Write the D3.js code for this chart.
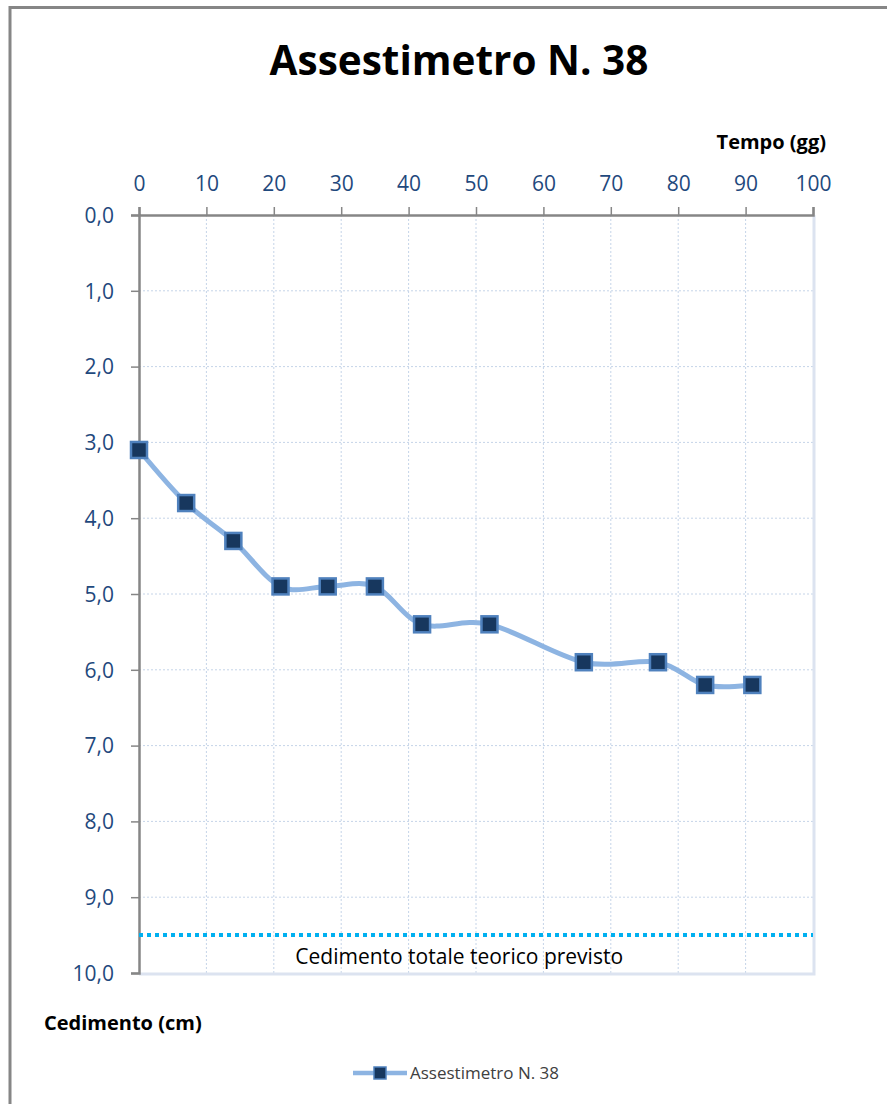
<html>
<head>
<style>
  body { margin: 0; background: #fff; }
  text { font-family: "Open Sans", sans-serif; }
</style>
</head>
<body>
<div id="chart"></div>
<script src="https://d3js.org/d3.v7.min.js"></script>
<script>
// data
var days = [0, 7, 14, 21, 28, 35, 42, 52, 66, 77, 84, 91];
var settlement = [3.1, 3.8, 4.3, 4.9, 4.9, 4.9, 5.4, 5.4, 5.9, 5.9, 6.2, 6.2];
var expectedTotal = 9.5;
var xTicks = [0, 10, 20, 30, 40, 50, 60, 70, 80, 90, 100];
var yTicks = [0, 1, 2, 3, 4, 5, 6, 7, 8, 9, 10];
var seriesName = "Assestimetro N. 38";

var W = 887, H = 1104;
var margin = { top: 215, left: 139, right: 887 - 813, bottom: 1104 - 973 };
var width = W - margin.left - margin.right,
    height = H - margin.top - margin.bottom;

var root = d3.select("#chart").append("svg")
    .attr("width", W)
    .attr("height", H);

// outer frame
root.append("path")
    .attr("d", "M10,1104 V7.5 H887")
    .attr("fill", "none")
    .attr("stroke", "#868686")
    .attr("stroke-width", 3);

root.append("text")
    .attr("x", 459).attr("y", 75)
    .attr("text-anchor", "middle")
    .attr("font-weight", "bold")
    .attr("font-size", 40.5)
    .text("Assestimetro N. 38");

var svg = root.append("g")
    .attr("transform", "translate(" + margin.left + "," + margin.top + ")");

var x = d3.scaleLinear().domain([0, 100]).range([0, width]);
var y = d3.scaleLinear().domain([0, 10]).range([0, height]);

// grid
svg.append("g").selectAll("line")
    .data(xTicks.slice(1, -1))
    .enter().append("line")
    .attr("x1", d => x(d)).attr("x2", d => x(d))
    .attr("y1", 0).attr("y2", height)
    .attr("stroke", "#c5d4e8").attr("stroke-dasharray", "2,2");
svg.append("g").selectAll("line")
    .data(yTicks.slice(1, -1))
    .enter().append("line")
    .attr("x1", 0).attr("x2", width)
    .attr("y1", d => y(d)).attr("y2", d => y(d))
    .attr("stroke", "#c5d4e8").attr("stroke-dasharray", "2,2");

// plot area border right / bottom
svg.append("path")
    .attr("d", "M" + (width + 1) + ",0 V" + (height + 1) + " H0")
    .attr("fill", "none")
    .attr("stroke", "#dce3f0")
    .attr("stroke-width", 3);

// axes
var xAxis = svg.append("g")
    .call(d3.axisTop(x).tickValues(xTicks).tickSize(8).tickPadding(16));
var yAxis = svg.append("g")
    .call(d3.axisLeft(y).tickValues(yTicks).tickSize(8).tickPadding(17)
        .tickFormat(d => d3.format(".1f")(d).replace(".", ",")));
[xAxis, yAxis].forEach(function (a) {
    a.select(".domain").attr("stroke", "#868686").attr("stroke-width", 2.5);
    a.selectAll(".tick line").attr("stroke", "#868686").attr("stroke-width", 1.5);
    a.selectAll("text")
        .attr("fill", "#1f497d")
        .style("font-size", "21px")
        .style("font-family", "'Open Sans', sans-serif");
});
yAxis.selectAll("text").attr("dy", "0.35em");

// expected total settlement
svg.append("line")
    .attr("x1", 0).attr("x2", width)
    .attr("y1", y(expectedTotal)).attr("y2", y(expectedTotal))
    .attr("stroke", "#00b0f0")
    .attr("stroke-width", 4)
    .attr("stroke-dasharray", "4,4");
svg.append("text")
    .attr("x", x(47.5)).attr("y", y(expectedTotal) + 29)
    .attr("text-anchor", "middle")
    .attr("font-size", 21)
    .attr("fill", "#000")
    .text("Cedimento totale teorico previsto");

// series
var pts = days.map((d, i) => [d, settlement[i]]);
var line = d3.line()
    .x(d => x(d[0]))
    .y(d => y(d[1]))
    .curve(d3.curveCatmullRom.alpha(0));
svg.append("path")
    .datum(pts)
    .attr("d", line)
    .attr("fill", "none")
    .attr("stroke", "#8db4e2")
    .attr("stroke-width", 5);

var s = 16;
svg.selectAll(".pt")
    .data(pts)
    .enter().append("rect")
    .attr("class", "pt")
    .attr("x", d => x(d[0]) - s / 2)
    .attr("y", d => y(d[1]) - s / 2)
    .attr("width", s).attr("height", s)
    .attr("fill", "#17375e")
    .attr("stroke", "#4f81bd")
    .attr("stroke-width", 2.5);

// axis titles
root.append("text")
    .attr("x", 826).attr("y", 149)
    .attr("text-anchor", "end")
    .attr("font-weight", "bold")
    .attr("font-size", 20)
    .text("Tempo (gg)");
root.append("text")
    .attr("x", 44).attr("y", 1030)
    .attr("font-weight", "bold")
    .attr("font-size", 20)
    .text("Cedimento (cm)");

// legend
var lg = root.append("g").attr("transform", "translate(353,1073)");
lg.append("line")
    .attr("x1", 0).attr("x2", 54)
    .attr("stroke", "#8db4e2").attr("stroke-width", 4.5);
lg.append("rect")
    .attr("x", 21).attr("y", -6).attr("width", 12).attr("height", 12)
    .attr("fill", "#17375e").attr("stroke", "#4f81bd").attr("stroke-width", 1.5);
lg.append("text")
    .attr("x", 57).attr("y", 6)
    .attr("font-size", 17)
    .attr("fill", "#404040")
    .text(seriesName);
</script>
</body>
</html>
